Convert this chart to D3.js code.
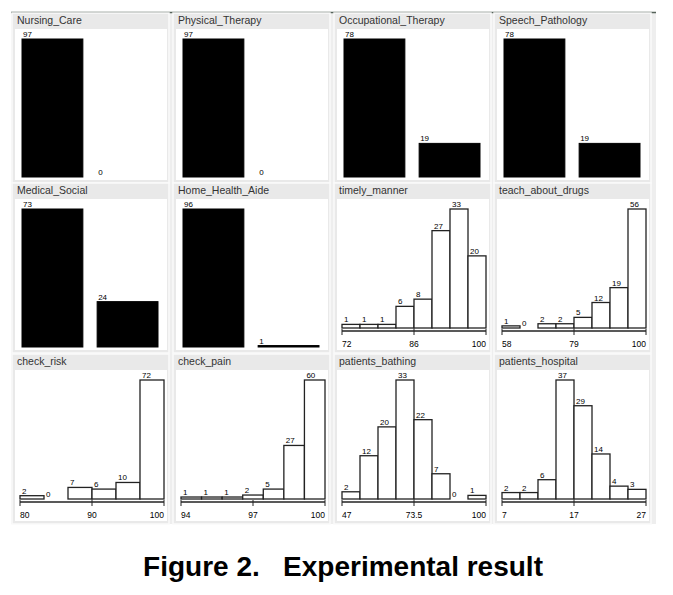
<!DOCTYPE html>
<html>
<head>
<meta charset="utf-8">
<script src="https://cdn.jsdelivr.net/npm/d3@7"></script>
<style>
  body { margin: 0; background: #fff; }
  text { font-family: "Liberation Sans", Arial, sans-serif; }
</style>
</head>
<body>
<div id="svgcontainer"></div>
<script>
// two-valued attributes, drawn as black bars
const barNames = ["Nursing_Care", "Physical_Therapy", "Occupational_Therapy", "Speech_Pathology", "Medical_Social", "Home_Health_Aide"]
const barCounts = [[97, 0], [97, 0], [78, 19], [78, 19], [73, 24], [96, 1]]

// numeric attributes, drawn as histograms
const histNames = ["timely_manner", "teach_about_drugs", "check_risk", "check_pain", "patients_bathing", "patients_hospital"]
const histCounts = [
  [1, 1, 1, 6, 8, 27, 33, 20],
  [1, 0, 2, 2, 5, 12, 19, 56],
  [2, 0, 7, 6, 10, 72],
  [1, 1, 1, 2, 5, 27, 60],
  [2, 12, 20, 33, 22, 7, 0, 1],
  [2, 2, 6, 37, 29, 14, 4, 3]
]
const histTicks = [[72, 86, 100], [58, 79, 100], [80, 90, 100], [94, 97, 100], [47, 73.5, 100], [7, 17, 27]]

const caption = "Figure 2.   Experimental result"

const width = 673
const height = 595

// panel grid (white plot area of each panel)
const colX = [15, 176, 337, 497]
const rowY = [29, 199, 370]
const pw = 152
const ph = 151

// panels in reading order: 6 bar charts, then 6 histograms
const panels = []
barNames.forEach((n, i) => panels.push({ type: "bar", name: n, counts: barCounts[i] }))
histNames.forEach((n, i) => panels.push({ type: "hist", name: n, counts: histCounts[i], ticks: histTicks[i] }))

const svg = d3.select("#svgcontainer")
  .append("svg")
  .attr("width", width)
  .attr("height", height)

// grey frame with dark top line
svg.append("rect")
  .attr("x", 11).attr("y", 12)
  .attr("width", 645).attr("height", 512)
  .attr("fill", "#eeeeee")
svg.append("line")
  .attr("x1", 11).attr("x2", 656)
  .attr("y1", 12.5).attr("y2", 12.5)
  .attr("stroke", "#56635a")
  .attr("stroke-width", 1.6)

panels.forEach((p, i) => {
  const x0 = colX[i % 4]
  const y0 = rowY[Math.floor(i / 4)]
  const g = svg.append("g")

  // panel box + title strip
  g.append("rect")
    .attr("x", x0 - 3).attr("y", y0 - 16)
    .attr("width", pw + 5).attr("height", ph + 19)
    .attr("fill", "#e9e9e9")
    .attr("stroke", "#fafafa")
    .attr("stroke-width", 1.5)
  g.append("rect")
    .attr("x", x0).attr("y", y0)
    .attr("width", pw).attr("height", ph)
    .attr("fill", "#fff")
  g.append("text")
    .attr("x", x0 + 2).attr("y", y0 - 5)
    .attr("font-size", 10.5)
    .attr("fill", "#333")
    .text(p.name)

  if (p.type == "bar") {
    const x = d3.scaleBand()
      .domain(d3.range(p.counts.length))
      .range([x0 + 7, x0 + 143])
      .paddingInner(0.19)
    const y = d3.scaleLinear()
      .domain([0, d3.max(p.counts)])
      .range([y0 + 148, y0 + 10])

    g.selectAll("rect.bar")
      .data(p.counts)
      .join("rect")
        .attr("class", "bar")
        .attr("x", (d, j) => x(j))
        .attr("y", d => y(d))
        .attr("width", x.bandwidth())
        .attr("height", d => y(0) - y(d))
        .attr("fill", "#000")
        .attr("stroke", "#000")
        .attr("stroke-width", d => d > 0 ? 1 : 0)

    g.selectAll("text.lab")
      .data(p.counts)
      .join("text")
        .attr("class", "lab")
        .attr("x", (d, j) => x(j) + 1)
        .attr("y", d => y(d) - 2)
        .attr("font-size", 8)
        .text(d => d)
  } else {
    const lo = p.ticks[0]
    const hi = p.ticks[p.ticks.length - 1]
    const n = p.counts.length
    const step = (hi - lo) / n
    const x = d3.scaleLinear()
      .domain([lo, hi])
      .range([x0 + 5, x0 + 149])
    const y = d3.scaleLinear()
      .domain([0, d3.max(p.counts)])
      .range([y0 + 129, y0 + 10])

    const bins = p.counts.map((c, j) => ({ c: c, a: lo + j * step, b: lo + (j + 1) * step }))

    g.selectAll("rect.bin")
      .data(bins.filter(d => d.c > 0))
      .join("rect")
        .attr("class", "bin")
        .attr("x", d => x(d.a))
        .attr("y", d => y(d.c))
        .attr("width", d => x(d.b) - x(d.a))
        .attr("height", d => y(0) - y(d.c))
        .attr("fill", "#fff")
        .attr("stroke", "#222")
        .attr("stroke-width", 1.3)

    g.selectAll("text.lab")
      .data(bins)
      .join("text")
        .attr("class", "lab")
        .attr("x", d => x(d.a) + 2)
        .attr("y", d => y(d.c) - 2)
        .attr("font-size", 8)
        .text(d => d.c)

    // axis: base line, ticks, labels
    const ay = y0 + 132
    g.append("line")
      .attr("x1", x(lo)).attr("x2", x(hi))
      .attr("y1", ay).attr("y2", ay)
      .attr("stroke", "#222")
      .attr("stroke-width", 1.3)
    g.selectAll("line.tick")
      .data(p.ticks)
      .join("line")
        .attr("class", "tick")
        .attr("x1", d => x(d)).attr("x2", d => x(d))
        .attr("y1", ay - 2).attr("y2", ay + 4)
        .attr("stroke", "#222")
    g.selectAll("text.tl")
      .data(p.ticks)
      .join("text")
        .attr("class", "tl")
        .attr("x", d => x(d))
        .attr("y", ay + 16)
        .attr("font-size", 8.5)
        .attr("text-anchor", (d, j) => j == 0 ? "start" : (j == p.ticks.length - 1 ? "end" : "middle"))
        .text(d => d)
  }
})

svg.append("text")
  .attr("x", 343)
  .attr("y", 576)
  .attr("text-anchor", "middle")
  .attr("font-size", 28)
  .attr("font-weight", "bold")
  .style("white-space", "pre")
  .text(caption)
</script>
</body>
</html>
